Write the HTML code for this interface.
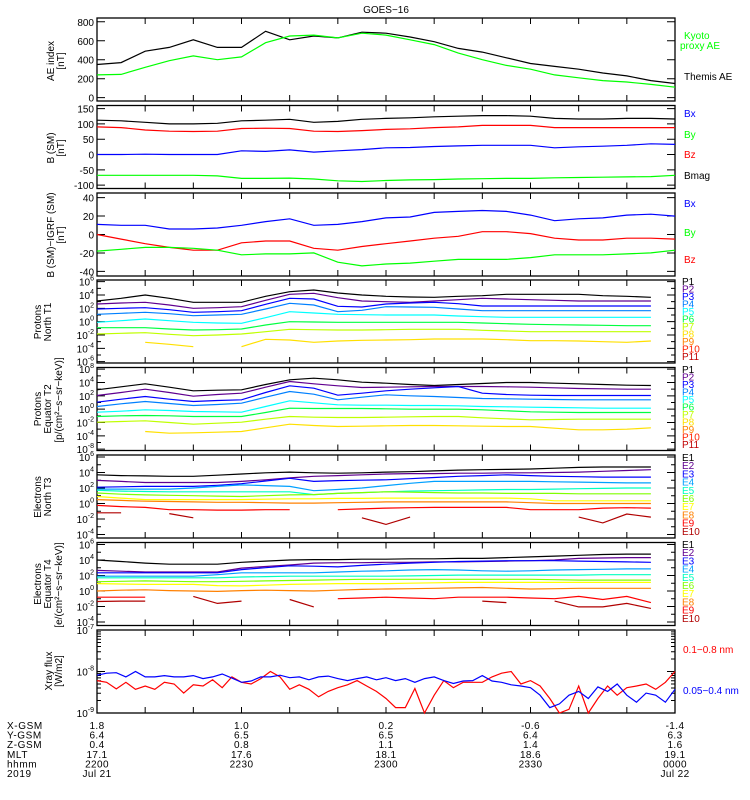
<!DOCTYPE html>
<html><head><meta charset="utf-8"><style>
body{margin:0;background:#fff;}
svg{display:block;font-family:"Liberation Sans",sans-serif;}
text{font-size:10px;}
</style></head><body>
<svg id="chart" width="750" height="800" viewBox="0 0 750 800" xmlns="http://www.w3.org/2000/svg">
<rect x="0" y="0" width="750" height="800" fill="#fff"/>
<text x="386" y="13" text-anchor="middle" font-size="12">GOES−16</text>
<g id="panels"></g>
<g font-size="10">
<text x="684" y="39" fill="#00ff00">Kyoto</text>
<text x="680" y="49" fill="#00ff00">proxy AE</text>
<text x="684" y="80" fill="#000">Themis AE</text>
<text x="684" y="117" fill="#0000ff">Bx</text>
<text x="684" y="138" fill="#00ff00">By</text>
<text x="684" y="158" fill="#ff0000">Bz</text>
<text x="684" y="179" fill="#000">Bmag</text>
<text x="684" y="207" fill="#0000ff">Bx</text>
<text x="684" y="236" fill="#00ff00">By</text>
<text x="684" y="263" fill="#ff0000">Bz</text>
<text x="683" y="653" fill="#ff0000">0.1−0.8 nm</text>
<text x="683" y="694" fill="#0000ff">0.05−0.4 nm</text>
</g>
<g id="ytitles" font-size="10">
<text transform="translate(54,61) rotate(-90)" text-anchor="middle">AE index</text>
<text transform="translate(64,61) rotate(-90)" text-anchor="middle">[nT]</text>
<text transform="translate(54,148) rotate(-90)" text-anchor="middle">B (SM)</text>
<text transform="translate(64,148) rotate(-90)" text-anchor="middle">[nT]</text>
<text transform="translate(54,235) rotate(-90)" text-anchor="middle">B (SM)−IGRF (SM)</text>
<text transform="translate(64,235) rotate(-90)" text-anchor="middle">[nT]</text>
<text transform="translate(41,322) rotate(-90)" text-anchor="middle">Protons</text>
<text transform="translate(51,322) rotate(-90)" text-anchor="middle">North T1</text>
<text transform="translate(41,409) rotate(-90)" text-anchor="middle">Protons</text>
<text transform="translate(51,409) rotate(-90)" text-anchor="middle">Equator T2</text>
<text transform="translate(62,400) rotate(-90)" text-anchor="middle">[p/(cm²−s−sr−keV)]</text>
<text transform="translate(41,497) rotate(-90)" text-anchor="middle">Electrons</text>
<text transform="translate(51,497) rotate(-90)" text-anchor="middle">North T3</text>
<text transform="translate(41,584) rotate(-90)" text-anchor="middle">Electrons</text>
<text transform="translate(51,584) rotate(-90)" text-anchor="middle">Equator T4</text>
<text transform="translate(62,585) rotate(-90)" text-anchor="middle">[e/(cm²−s−sr−keV)]</text>
<text transform="translate(52,671) rotate(-90)" text-anchor="middle">Xray flux</text>
<text transform="translate(62,671) rotate(-90)" text-anchor="middle">[W/m2]</text>
</g>
<g id="bottom" font-size="10"></g>
</svg>
<script>
// ---- data ----
const grid=[0,5,10,15,20,25,30,35,40,45,50,55,60,65,70,75,80,85,90,95,100,105,110,115,120];
const aeThemis=[350,370,490,530,610,530,530,700,610,650,630,690,680,640,590,520,480,420,360,330,300,260,230,180,150];
const aeKyoto=[240,245,320,390,440,400,430,580,650,660,630,680,660,610,560,470,400,340,300,240,210,180,165,140,110];
const bBx=[0,0,1,0,0,0,12,10,15,8,12,16,22,23,26,28,30,30,30,22,25,27,30,35,33];
const bBy=[-68,-68,-68,-68,-68,-70,-78,-78,-77,-80,-86,-88,-85,-83,-82,-80,-79,-78,-78,-76,-75,-74,-73,-72,-68];
const bBz=[90,88,80,76,75,76,85,86,85,76,75,78,82,84,88,90,95,95,95,88,88,88,88,88,88];
const bBmag=[112,110,105,100,100,102,110,112,115,105,108,115,118,120,123,125,127,127,125,118,116,116,118,118,116];
const dBx=[11,10,10,6,6,7,10,14,17,10,11,14,18,19,24,25,26,25,21,15,17,18,21,22,20];
const dBy=[-18,-16,-14,-14,-15,-17,-22,-21,-21,-20,-30,-34,-32,-31,-29,-27,-27,-27,-25,-22,-22,-22,-21,-20,-17];
const dBz=[0,-5,-10,-14,-17,-17,-9,-7,-7,-15,-17,-13,-10,-7,-4,-2,3,3,1,-4,-6,-6,-4,-4,-5];
// proton fluxes (log10)
const pn1=[3.1,3.5,4.0,3.5,2.9,2.9,2.9,3.8,4.5,4.75,4.3,4.0,3.8,3.7,3.65,3.8,3.9,4.1,4.1,4.1,4.1,3.9,3.8,3.65,null];
const pn2=[2.65,2.8,2.9,2.5,2.0,2.1,2.25,3.2,4.1,4.25,3.6,3.1,3.0,2.9,3.1,3.3,3.5,3.4,3.3,3.2,3.1,3.1,3.1,3.1,null];
const pn3=[1.9,2.0,2.1,1.8,1.4,1.5,1.65,2.6,3.5,3.4,2.3,2.2,2.65,2.8,2.9,2.7,2.35,2.35,2.35,2.35,2.35,2.35,2.35,2.35,null];
const pn4=[1.1,1.25,1.4,1.2,0.9,1.0,1.1,1.9,2.75,2.5,1.5,1.7,2.25,2.2,2.15,1.9,1.65,1.65,1.65,1.65,1.65,1.65,1.65,1.65,null];
const pn5=[-0.1,0.15,0.4,0.15,-0.1,-0.2,-0.25,0.6,1.5,1.3,1.1,1.05,1.0,1.0,1.0,0.85,0.75,0.65,0.65,0.65,0.65,0.65,0.65,0.65,null];
const pn6=[-0.9,-0.9,-0.9,-1.1,-1.25,-1.2,-1.1,-0.5,0.0,-0.05,-0.1,-0.1,-0.1,-0.1,-0.1,-0.1,-0.2,-0.3,-0.4,-0.45,-0.5,-0.55,-0.6,-0.6,null];
const pn7=[-1.85,-1.75,-1.65,-1.9,-2.1,-2.0,-1.85,-1.5,-1.15,-1.2,-1.25,-1.25,-1.2,-1.15,-1.15,-1.15,-1.3,-1.4,-1.5,-1.5,-1.5,-1.5,-1.5,-1.5,null];
const pn8=[null,null,-3.1,-3.4,-3.75,null,-3.75,-2.65,-2.75,-3.1,-2.9,-2.8,-2.75,-2.7,-2.6,-2.6,-2.6,-2.7,-2.85,-2.85,-2.9,-3.0,-3.1,-2.9,null];
const pe1=[2.9,3.35,3.8,3.3,2.75,2.85,2.9,3.7,4.4,4.65,4.4,4.05,3.9,3.7,3.55,3.7,3.85,4.0,4.0,3.9,3.8,3.7,3.6,3.55,null];
const pe2=[2.05,2.5,3.0,2.5,1.95,2.2,2.4,3.3,4.15,3.8,3.5,3.25,3.3,3.35,3.4,3.4,3.4,3.35,3.3,3.2,3.1,3.05,3.0,3.0,null];
const pe3=[1.05,1.5,1.9,1.5,1.15,1.3,1.4,2.5,3.5,3.15,2.1,2.4,2.75,3.0,3.2,3.4,2.4,2.2,2.1,2.05,2.05,2.05,2.05,2.05,null];
const pe4=[0.4,0.8,1.15,0.85,0.55,0.7,0.9,1.8,2.65,2.25,1.4,1.8,2.15,2.0,1.9,1.75,1.6,1.55,1.5,1.45,1.4,1.4,1.4,1.4,null];
const pe5=[-0.45,-0.3,-0.1,-0.2,-0.35,-0.4,-0.45,0.4,1.25,0.95,0.65,0.6,0.6,0.55,0.55,0.5,0.4,0.35,0.3,0.25,0.2,0.15,0.15,0.15,null];
const pe6=[-1.1,-1.0,-0.95,-1.0,-1.1,-1.1,-1.1,-0.5,0.15,0.1,0.1,0.1,0.05,0.0,0.0,0.0,-0.1,-0.25,-0.4,-0.45,-0.5,-0.5,-0.5,-0.5,null];
const pe7=[-1.95,-1.85,-1.75,-2.0,-2.25,-2.1,-1.95,-1.5,-1.1,-1.2,-1.25,-1.25,-1.2,-1.15,-1.1,-1.1,-1.3,-1.45,-1.6,-1.55,-1.5,-1.5,-1.5,-1.5,null];
const pe8=[null,null,-3.35,-3.6,-3.55,-3.45,-3.35,-2.8,-2.25,-2.45,-2.6,-2.55,-2.5,-2.45,-2.45,-2.5,-2.55,-2.6,-2.6,-2.85,-3.1,-3.1,-3.0,-2.8,null];
// electron fluxes (log10)
const en1=[3.7,3.6,3.55,3.5,3.5,3.65,3.8,3.95,4.05,3.95,3.9,3.95,4.05,4.1,4.2,4.3,4.35,4.4,4.45,4.55,4.65,4.7,4.7,4.7,null];
const en2=[2.97,2.85,2.7,2.7,2.7,2.7,2.85,3.05,3.3,3.5,3.6,3.7,3.8,3.85,3.85,3.9,3.9,3.95,3.95,4.0,4.05,4.15,4.25,4.35,null];
const en3=[2.1,2.15,2.2,2.2,2.2,2.35,2.55,2.9,3.25,2.85,2.95,3.0,3.05,3.2,3.35,3.5,3.6,3.7,3.6,3.5,3.45,3.4,3.4,3.4,null];
const en4=[1.85,1.85,1.85,1.85,2.0,2.2,2.4,2.3,2.2,1.65,1.8,2.0,2.3,2.6,2.85,2.85,2.85,2.85,2.85,2.8,2.75,2.7,2.65,2.65,null];
const en5=[1.7,1.6,1.55,1.5,1.5,1.5,1.5,1.5,1.5,1.15,1.3,1.4,1.5,1.6,1.65,1.7,1.75,1.8,1.8,1.85,1.9,1.95,2.0,2.0,null];
const en6=[1.35,1.2,1.1,1.05,1.0,0.95,0.9,1.0,1.1,1.15,1.3,1.4,1.5,1.45,1.4,1.35,1.35,1.3,1.3,1.3,1.25,1.25,1.25,1.25,null];
const en7=[0.9,0.7,0.5,0.5,0.5,0.5,0.5,0.55,0.6,0.6,0.65,0.65,0.7,0.7,0.7,0.7,0.7,0.7,0.6,0.35,0.35,0.35,0.35,0.35,null];
const en8=[0.5,0.4,0.3,0.25,0.2,0.15,0.15,0.1,0.05,0.05,0.1,0.15,0.2,0.2,0.2,0.2,0.2,0.2,0.1,0.0,0.0,0.0,0.0,0.0,null];
const en9=[-0.25,-0.4,-0.5,-0.8,-0.8,-0.85,-0.85,-0.8,-0.8,null,-0.8,-0.7,-0.6,-0.55,-0.5,-0.5,-0.5,-0.5,-0.8,-0.8,-0.8,-0.6,-0.55,-0.6,null];
const en10=[-1.2,-1.2,null,-1.3,-1.85,null,null,null,null,null,null,-1.85,-2.7,-1.75,null,null,null,null,null,null,-1.75,-2.5,-1.35,-1.75,null];
const ee1=[4.0,3.8,3.6,3.45,3.45,3.45,3.7,3.85,4.0,4.05,4.05,4.1,4.1,4.15,4.15,4.2,4.2,4.3,4.4,4.5,4.6,4.7,4.75,4.75,null];
const ee2=[2.65,2.55,2.45,2.45,2.45,2.45,2.95,3.15,3.35,3.6,3.65,3.65,3.7,3.7,3.75,3.75,3.8,3.85,3.9,4.0,4.2,4.25,4.3,4.3,null];
const ee3=[2.35,2.35,2.35,2.35,2.35,2.35,2.75,3.0,3.25,3.2,3.1,3.3,3.45,3.6,3.7,3.8,3.85,3.9,3.9,3.9,3.85,3.8,3.75,3.7,null];
const ee4=[1.9,1.9,1.9,1.9,1.9,2.1,2.35,2.35,2.35,2.35,2.45,2.55,2.6,2.7,2.75,2.7,2.6,2.55,2.6,2.7,2.75,2.8,2.85,2.85,null];
const ee5=[1.7,1.7,1.7,1.7,1.7,1.7,1.8,1.85,1.9,1.9,1.9,1.9,1.9,1.95,2.0,2.05,2.05,2.05,2.05,2.05,2.05,2.1,2.1,2.1,null];
const ee6=[1.2,1.25,1.3,1.25,1.2,1.2,1.25,1.3,1.35,1.4,1.45,1.5,1.5,1.5,1.5,1.5,1.5,1.5,1.5,1.45,1.4,1.4,1.4,1.4,null];
const ee7=[0.95,0.9,0.85,0.85,0.85,0.7,0.65,0.75,0.85,0.9,0.95,0.95,0.95,1.0,1.05,1.1,1.1,1.1,1.1,1.1,1.1,1.1,1.1,1.1,null];
const ee8=[0.0,0.1,0.15,0.05,0.0,-0.05,0.05,0.1,0.05,0.0,0.1,0.2,0.25,0.3,0.35,0.4,0.45,0.35,0.25,0.3,0.35,0.35,0.35,0.35,null];
const ee9=[-0.8,-0.8,-0.8,null,null,null,null,null,null,null,-1.0,-0.9,-0.8,-0.9,-1.0,-0.8,-0.8,-0.8,-0.9,-1.0,-0.7,-1.1,-0.7,-1.5,null];
const ee10=[-1.35,-1.3,-1.3,null,-0.7,-1.6,-1.3,null,-1.1,-2.05,null,null,null,null,null,null,-1.3,-1.5,null,-1.3,-2.05,-2.05,-1.6,-2.25,null];
// x-ray (log10 W/m2)
const xrTime=[0,2,4,6,8,10,12,14,16,18,20,22,24,26,28,30,32,34,36,38,40,42,44,46,48,50,52,54,56,58,60,62,64,66,68,70,72,74,76,78,80,82,84,86,88,90,92,94,96,98,100,102,104,106,108,110,112,114,116,118,120];
const xrShort=[-8.09,-8.04,-8.03,-8.13,-8.00,-8.13,-8.13,-8.10,-8.13,-8.13,-8.10,-8.17,-8.13,-8.06,-8.16,-8.26,-8.23,-8.13,-8.13,-8.09,-8.15,-8.13,-8.20,-8.13,-8.11,-8.17,-8.22,-8.17,-8.13,-8.20,-8.15,-8.22,-8.17,-8.26,-8.17,-8.13,-8.22,-8.29,-8.23,-8.22,-8.10,-8.23,-8.26,-8.32,-8.35,-8.39,-8.57,-8.87,-8.78,-8.57,-8.48,-8.65,-8.37,-8.48,-8.30,-8.57,-8.74,-8.52,-8.57,-8.74,-8.43];
const xrLong=[-8.22,-8.26,-8.42,-8.26,-8.43,-8.35,-8.43,-8.26,-8.30,-8.52,-8.32,-8.35,-8.20,-8.39,-8.13,-8.26,-8.30,-8.17,-8.00,-8.13,-8.43,-8.32,-8.43,-8.61,-8.48,-8.39,-8.32,-8.22,-8.35,-8.48,-8.65,-8.87,-8.87,-8.41,-9.00,-8.57,-8.22,-8.39,-8.26,-8.26,-8.26,-8.13,-8.04,-8.00,-8.30,-8.22,-8.35,-8.65,-9.00,-8.91,-8.35,-9.00,-8.65,-8.35,-8.57,-8.39,-8.35,-8.30,-8.43,-8.26,-8.00];
// axis ticks
const aeTicks=[0,200,400,600,800];
const bTicks=[-100,-50,0,50,100,150];
const dbTicks=[-40,-20,0,20,40];
const pTicks=[6,4,2,0,-2,-4,-6];
const pnLabels=["6","4","2","0","-2","-4","-6"];
const peLabels=["8","4","2","0","-2","-4","-8"];
const eTicks=[6,4,2,0,-2,-4];
const eLabels=["6","4","2","0","-2","-4"];
const xrTicks=[-7,-8,-9];
const xrLabels=["-7","-8","-9"];
const xTickTimes=[0,10,20,30,40,50,60,70,80,90,100,110,120];
const labelTimes=[0,30,60,90,120];
const rowNames=["X-GSM","Y-GSM","Z-GSM","MLT","hhmm","2019"];
const rowX=["1.8","1.0","0.2","-0.6","-1.4"];
const rowY=["6.4","6.5","6.5","6.4","6.3"];
const rowZ=["0.4","0.8","1.1","1.4","1.6"];
const rowMLT=["17.1","17.6","18.1","18.6","19.1"];
const rowHHMM=["2200","2230","2300","2330","0000"];
const rowDate=["Jul 21","","","","Jul 22"];
const pNames=["P1","P2","P3","P4","P5","P6","P7","P8","P9","P10","P11"];
const eNames=["E1","E2","E3","E4","E5","E6","E7","E8","E9","E10"];

// ---- drawing ----
const NS="http://www.w3.org/2000/svg";
const X0=97,X1=675,PH=83;
const tops=[18,105.5,193,280,367.5,455,542.5,630];
const pCols=["#000","#600090","#0000ff","#0080ff","#00ffff","#00ff40","#c0ff00","#ffe000","#ff8000","#ff2000","#c00000"];
const eCols=["#000","#600090","#0000ff","#00a0ff","#00ffc0","#80ff00","#ffff00","#ff8000","#ff0000","#b00000"];
const root=document.getElementById('panels');
function el(tag,parent){const e=document.createElementNS(NS,tag);parent.appendChild(e);return e;}
function xs(t){return X0+(t/120)*(X1-X0);}
function scale(i,min,max){return v=>tops[i]+PH-(v-min)/(max-min)*PH;}

function frame(i,name,ticks,labels,ys,isLog,minor){
  const g=el('g',root);
  
  
  const r=el('rect',g);
  
  
  r.setAttribute('x',X0);r.setAttribute('y',tops[i]);r.setAttribute('width',X1-X0);r.setAttribute('height',PH);
  r.setAttribute('fill','none');r.setAttribute('stroke','#000');r.setAttribute('stroke-width','1.3');
  let d='';
  xTickTimes.forEach(t=>{const x=xs(t);d+=`M${x},${tops[i]+PH}v-6M${x},${tops[i]}v6`;});
  ticks.forEach(v=>{const y=ys(v);d+=`M${X0},${y}h8M${X1},${y}h-8`;});
  (minor||[]).forEach(v=>{const y=ys(v);d+=`M${X0},${y}h4M${X1},${y}h-4`;});
  const tk=el('path',g);
  
  
  tk.setAttribute('d',d);tk.setAttribute('stroke','#000');tk.setAttribute('fill','none');
  ticks.forEach((v,k)=>{
    const tx=el('text',g);
    
    
    tx.setAttribute('x',X0-3);tx.setAttribute('y',ys(v)+4);tx.setAttribute('text-anchor','end');
    if(isLog){
      tx.textContent='10';
      const sp=el('tspan',tx);sp.setAttribute('dy','-5');sp.setAttribute('font-size','7');sp.textContent=labels[k];
    } else tx.textContent=labels?labels[k]:String(v);
  });
  return g;
}
function series(g,name,times,vals,ys,color){
  let d='',pen=false;
  vals.forEach((v,k)=>{
    if(v===null||v===undefined){pen=false;return;}
    d+=(pen?'L':'M')+xs(times[k]).toFixed(1)+','+ys(v).toFixed(1);pen=true;
  });
  const p=el('path',g);
  
  
  p.setAttribute('d',d);p.setAttribute('fill','none');p.setAttribute('stroke',color);p.setAttribute('stroke-width','1.2');
}
function legendList(names,cols,y0,step,prefix){
  const g=el('g',root);
  
  
  names.forEach((n,k)=>{
    const t=el('text',g);
    
    
    t.setAttribute('x',682);t.setAttribute('y',y0+k*step+3);t.setAttribute('font-size','8.5');t.setAttribute('fill',cols[k]);t.textContent=n;
  });
}

// Panel 1 AE
let ys=scale(0,-35,840);let g=frame(0,'ae',aeTicks,null,ys,false);
series(g,'themis-ae-line',grid,aeThemis,ys,'#000');
series(g,'kyoto-ae-line',grid,aeKyoto,ys,'#00ff00');
// Panel 2 B
ys=scale(1,-111,160);g=frame(1,'b-sm',bTicks,null,ys,false);
series(g,'bmag-line',grid,bBmag,ys,'#000');
series(g,'bz-line',grid,bBz,ys,'#ff0000');
series(g,'bx-line',grid,bBx,ys,'#0000ff');
series(g,'by-line',grid,bBy,ys,'#00ff00');
// Panel 3 dB
ys=scale(2,-45,45);g=frame(2,'b-igrf',dbTicks,null,ys,false);
series(g,'dbx-line',grid,dBx,ys,'#0000ff');
series(g,'dbz-line',grid,dBz,ys,'#ff0000');
series(g,'dby-line',grid,dBy,ys,'#00ff00');
// Panel 4 protons north
const decP=[5,3,1,-1,-3,-5];
ys=scale(3,-6.2,6.25);g=frame(3,'protons-north',pTicks,pnLabels,ys,true,decP);
[pn1,pn2,pn3,pn4,pn5,pn6,pn7,pn8].forEach((s,k)=>series(g,'protons-north-p'+(k+1),grid,s,ys,pCols[k]));
legendList(pNames,pCols,282,7.5,'protons-north');
// Panel 5 protons equator
ys=scale(4,-6.2,6.25);g=frame(4,'protons-equator',pTicks,peLabels,ys,true,decP);
[pe1,pe2,pe3,pe4,pe5,pe6,pe7,pe8].forEach((s,k)=>series(g,'protons-equator-p'+(k+1),grid,s,ys,pCols[k]));
legendList(pNames,pCols,370,7.5,'protons-equator');
// Panel 6 electrons north
const decE=[5,3,1,-1,-3];
ys=scale(5,-4.45,6.25);g=frame(5,'electrons-north',eTicks,eLabels,ys,true,decE);
[en1,en2,en3,en4,en5,en6,en7,en8,en9,en10].forEach((s,k)=>series(g,'electrons-north-e'+(k+1),grid,s,ys,eCols[k]));
legendList(eNames,eCols,458,8.2,'electrons-north');
// Panel 7 electrons equator
ys=scale(6,-4.45,6.25);g=frame(6,'electrons-equator',eTicks,eLabels,ys,true,decE);
[ee1,ee2,ee3,ee4,ee5,ee6,ee7,ee8,ee9,ee10].forEach((s,k)=>series(g,'electrons-equator-e'+(k+1),grid,s,ys,eCols[k]));
legendList(eNames,eCols,545,8.2,'electrons-equator');
// Panel 8 xray
const xrMinor=[];
[-9,-8].forEach(dd=>{for(let m=2;m<=9;m++)xrMinor.push(dd+Math.log10(m));});
ys=scale(7,-9,-7);g=frame(7,'xray',xrTicks,xrLabels,ys,true,xrMinor);
series(g,'xray-long-line',xrTime,xrLong,ys,'#ff0000');
series(g,'xray-short-line',xrTime,xrShort,ys,'#0000ff');

// bottom ephemeris
const bot=document.getElementById('bottom');
const rows=[rowX,rowY,rowZ,rowMLT,rowHHMM,rowDate];
rowNames.forEach((n,r)=>{
  const y=729+r*9.6;
  const t=el('text',bot);
  
  
  t.setAttribute('x',7);t.setAttribute('y',y);t.setAttribute('letter-spacing','0.6');t.textContent=n;
  rows[r].forEach((v,k)=>{
    const c=el('text',bot);
    
    
    c.setAttribute('x',xs(labelTimes[k]));c.setAttribute('y',y);c.setAttribute('text-anchor','middle');c.setAttribute('letter-spacing','0.4');c.textContent=v;
  });
});
</script>
</body></html>
